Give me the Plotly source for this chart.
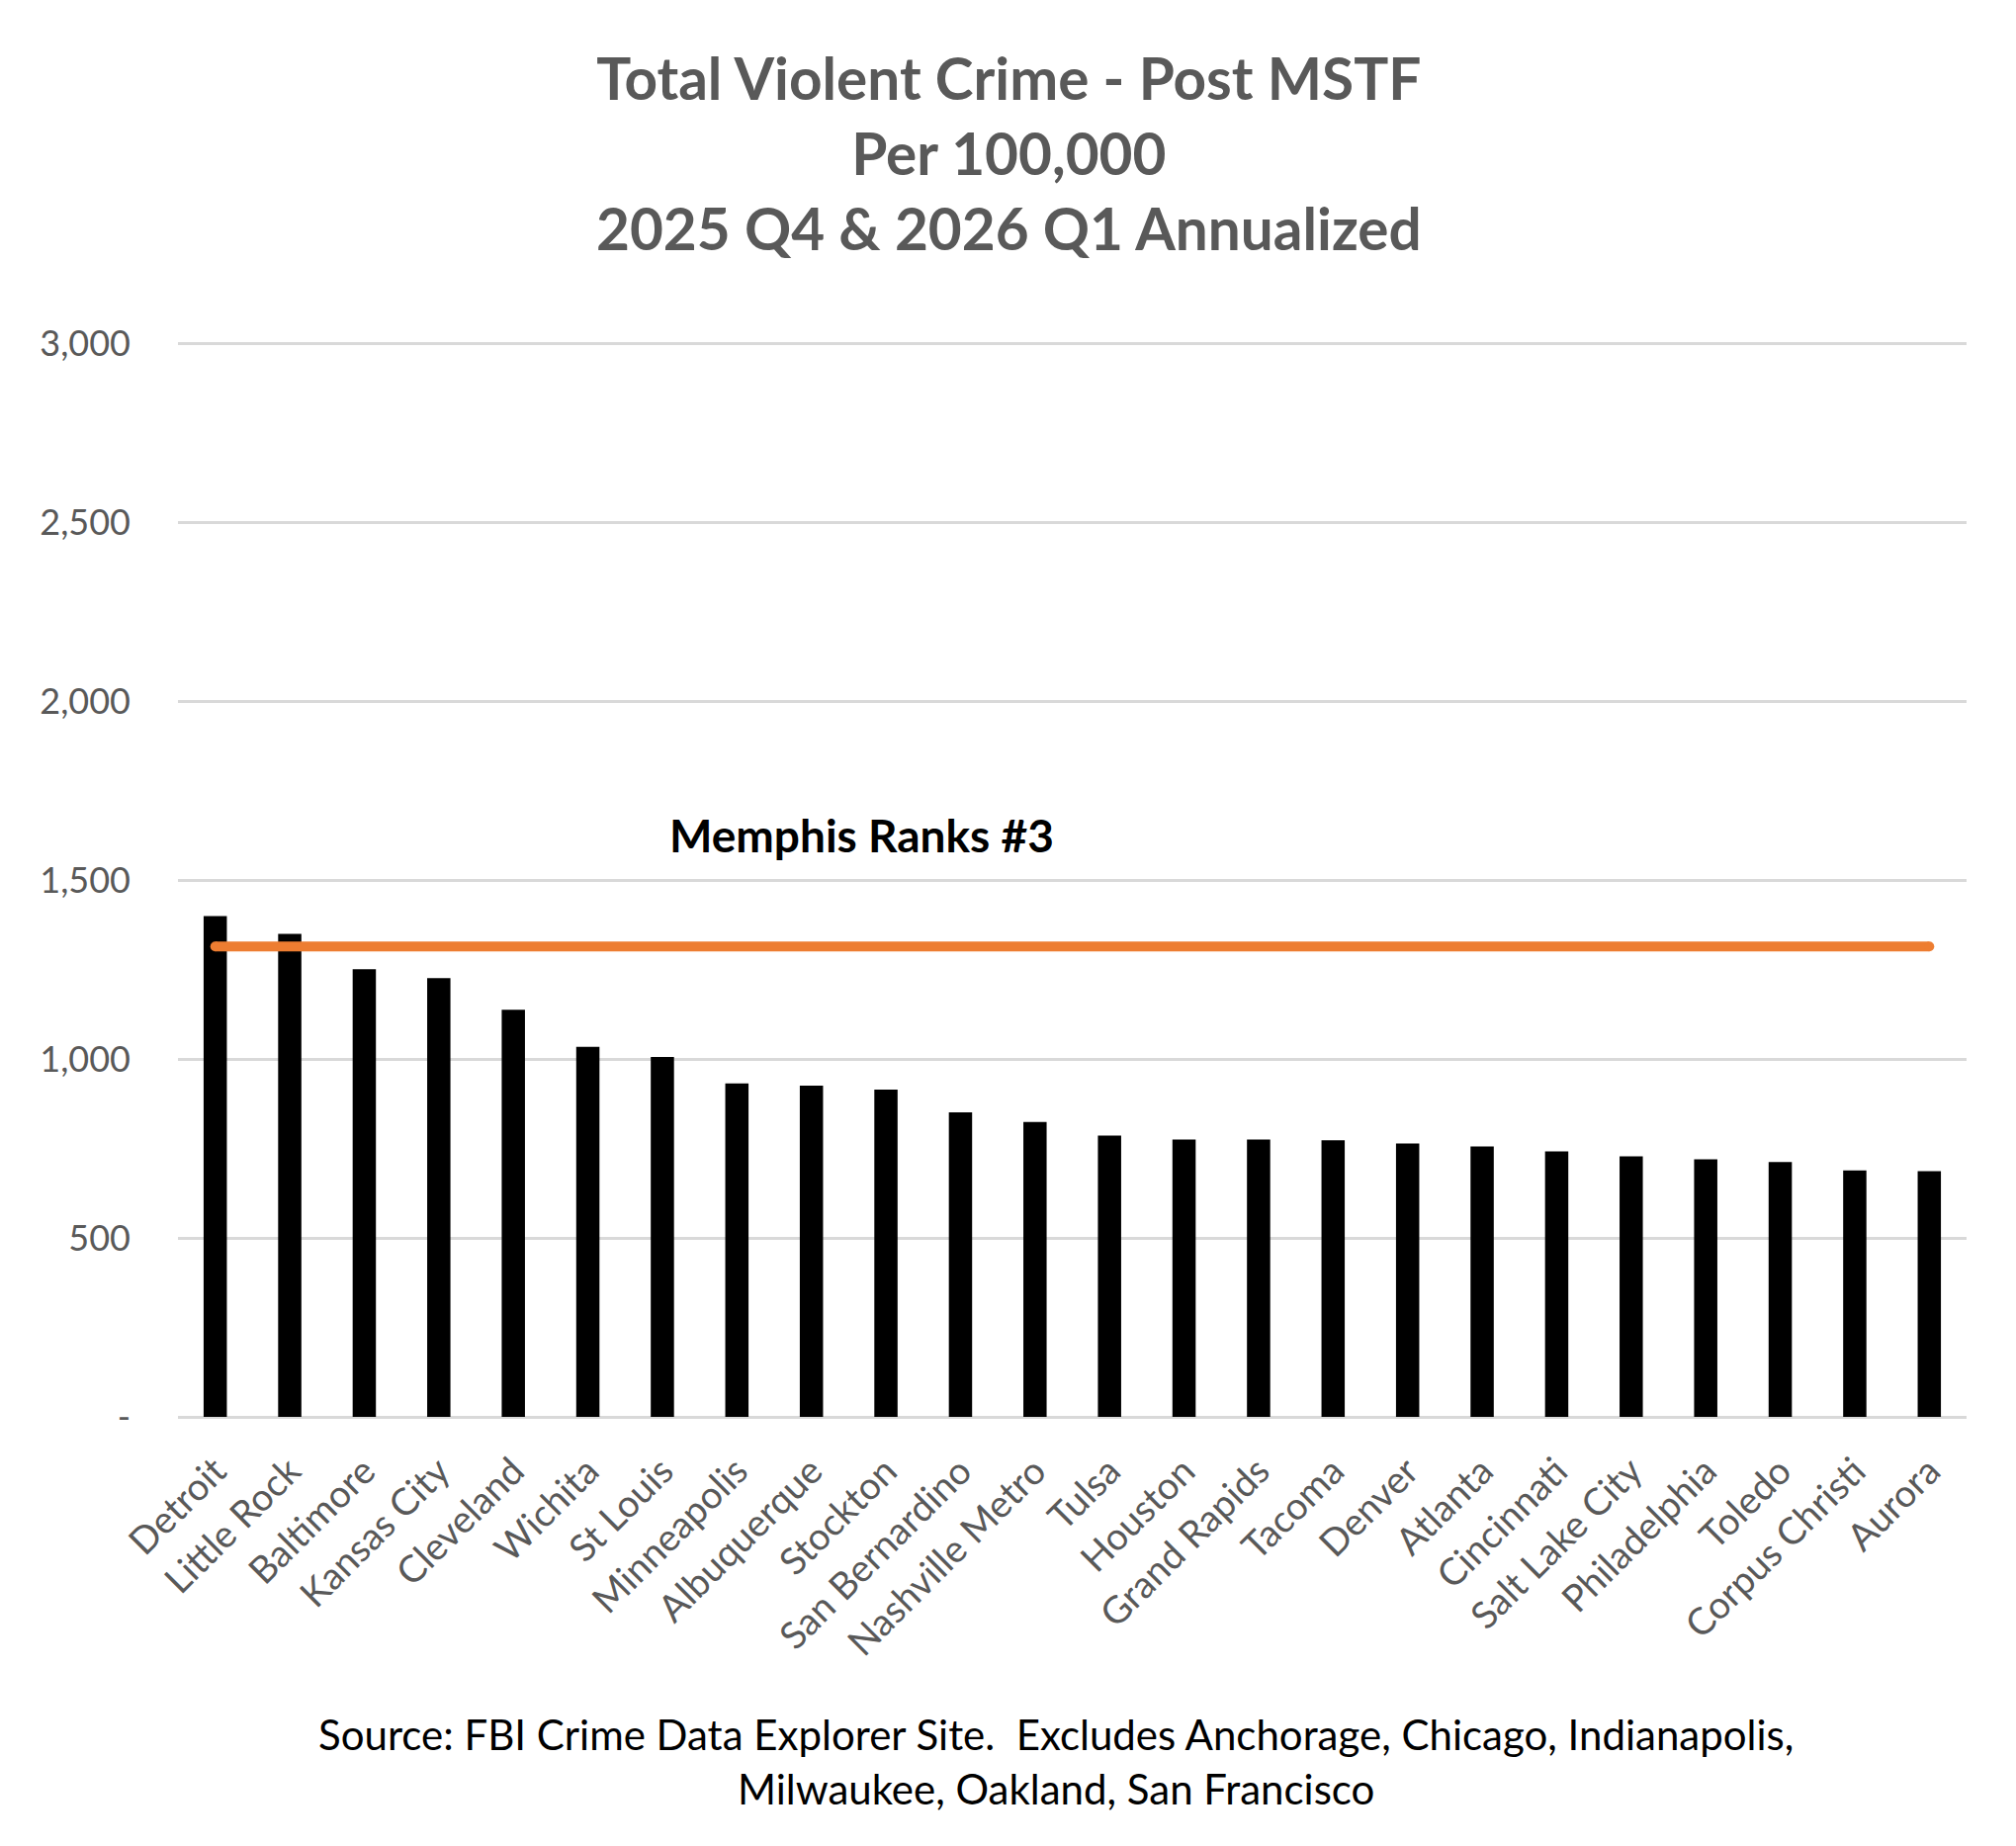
import plotly.graph_objects as go

cities = ["Detroit", "Little Rock", "Baltimore", "Kansas City", "Cleveland", "Wichita",
          "St Louis", "Minneapolis", "Albuquerque", "Stockton", "San Bernardino",
          "Nashville Metro", "Tulsa", "Houston", "Grand Rapids", "Tacoma", "Denver",
          "Atlanta", "Cincinnati", "Salt Lake City", "Philadelphia", "Toledo",
          "Corpus Christi", "Aurora"]
rates = [1400, 1350, 1251, 1226, 1138, 1034, 1006, 932, 926, 915, 851,
         824, 786, 775, 775, 773, 764, 756, 742, 728, 720, 712, 689, 687]
memphis_rate = 1315

y_tickvals = [0, 500, 1000, 1500, 2000, 2500, 3000]
y_ticktext = ["-", "500", "1,000", "1,500", "2,000", "2,500", "3,000"]

title_lines = ["Total Violent Crime - Post MSTF", "Per 100,000", "2025 Q4 & 2026 Q1 Annualized"]
note_text = "Memphis Ranks #3"
source_lines = ["Source: FBI Crime Data Explorer Site.  Excludes Anchorage, Chicago, Indianapolis,",
                "Milwaukee, Oakland, San Francisco"]

W, H = 2039, 1867
L, R, T, B = 180, 50, 346, 434
ph = H - T - B

def py(pix):
    return (H - B - pix) / ph

def px(pix):
    return (pix - L) / (W - L - R)

FONT = "Lato"
GREY = "#595959"

fig = go.Figure()
fig.add_trace(go.Bar(x=cities, y=rates, marker=dict(color="#000000", line=dict(width=0)),
                     showlegend=False, hoverinfo="x+y"))
fig.add_trace(go.Scatter(x=[cities[0], cities[-1]], y=[memphis_rate, memphis_rate],
                         mode="lines+markers", line=dict(color="#ED7D31", width=10),
                         marker=dict(color="#ED7D31", size=10), showlegend=False))

fig.add_annotation(x=px(1020), y=py(154), xref="paper", yref="paper", xanchor="center", yanchor="middle",
                   text="<b>" + "<br>".join(title_lines) + "</b>", showarrow=False,
                   font=dict(family=FONT, size=58.5, color=GREY))
fig.add_annotation(x=8.68, y=1627, xref="x", yref="y", xanchor="center", yanchor="middle",
                   text="<b>" + note_text + "</b>", showarrow=False,
                   font=dict(family=FONT, size=46, color="#000000"))
for line, ypix in zip(source_lines, [1754, 1809]):
    fig.add_annotation(x=px(1068), y=py(ypix), xref="paper", yref="paper", xanchor="center",
                       yanchor="middle", text=line, showarrow=False,
                       font=dict(family=FONT, size=42, color="#000000"))

fig.update_layout(
    width=W, height=H, margin=dict(l=L, r=R, t=T, b=B, autoexpand=False),
    paper_bgcolor="white", plot_bgcolor="white", bargap=0.688,
    font=dict(family=FONT, color=GREY),
)
fig.update_xaxes(type="category", range=[-0.5, 23.5], tickangle=-45,
                 tickfont=dict(family=FONT, size=38, color=GREY),
                 showgrid=False, showline=False, ticks="", ticklabelstandoff=24)
fig.update_yaxes(range=[0, 3004], tickvals=y_tickvals, ticktext=y_ticktext,
                 tickfont=dict(family=FONT, size=36, color=GREY), showgrid=True,
                 gridcolor="#D9D9D9", gridwidth=2.5, zeroline=True, zerolinecolor="#D9D9D9",
                 zerolinewidth=2.5, showline=False, ticks="", ticklabelstandoff=47)

fig.write_html("out.html", config={"displayModeBar": False},
               post_script="document.body.style.margin='0';")
